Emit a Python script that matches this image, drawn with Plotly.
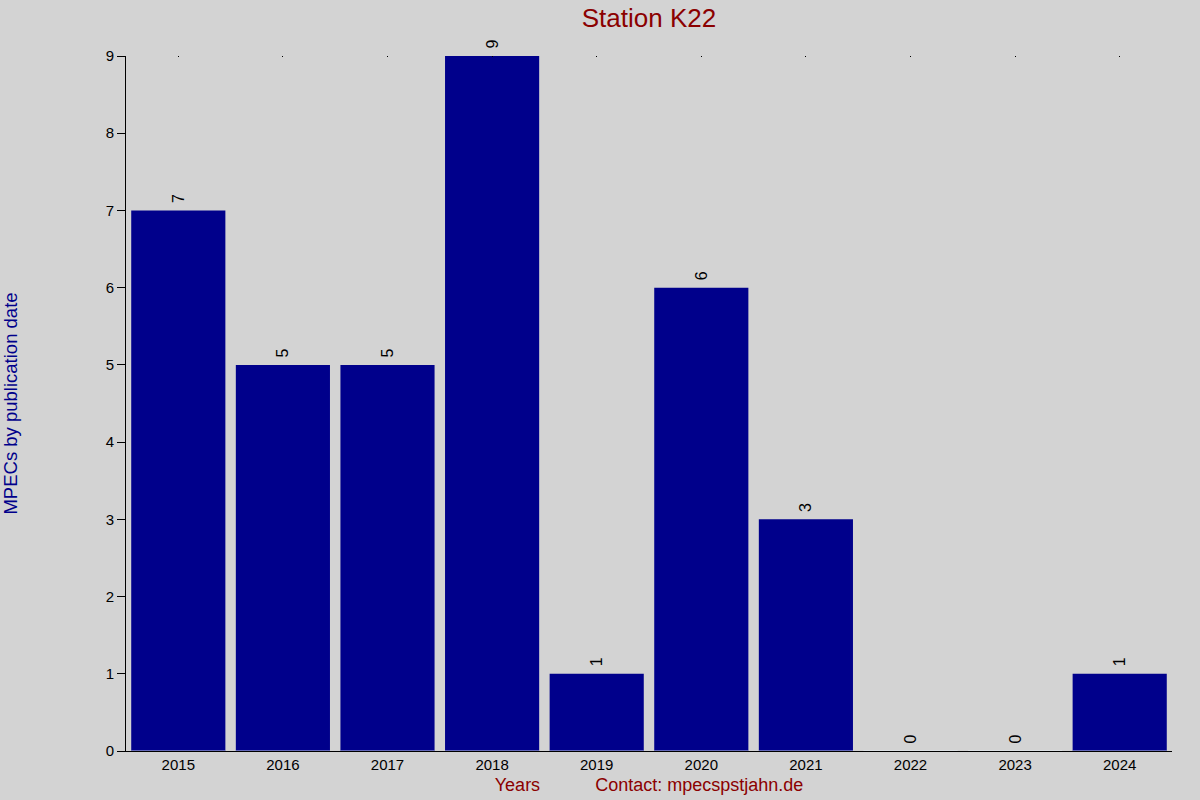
import plotly.graph_objects as go

years = ["2015", "2016", "2017", "2018", "2019", "2020", "2021", "2022", "2023", "2024"]
counts = [7, 5, 5, 9, 1, 6, 3, 0, 0, 1]

FONT = "Liberation Sans, Arial, sans-serif"

fig = go.Figure()
fig.add_trace(go.Bar(
    x=years, y=counts,
    marker=dict(color="#00008B", line=dict(width=0)),
    width=0.9,
    text=["\u00a0" + str(c) for c in counts],
    textposition="outside",
    textangle=-90,
    constraintext="none",
    textfont=dict(family=FONT, size=16, color="black"),
    cliponaxis=False,
))
# invisible trace on top axis for the small top tick dots
fig.add_trace(go.Bar(x=years, y=[0]*len(years), xaxis="x2", showlegend=False,
                     marker=dict(color="rgba(0,0,0,0)"), hoverinfo="skip"))

fig.update_layout(
    width=1200, height=800,
    paper_bgcolor="#d3d3d3", plot_bgcolor="#d3d3d3",
    margin=dict(l=126, r=28, t=56, b=49, autoexpand=False),
    showlegend=False,
    bargap=0.1,
    font=dict(family=FONT, size=15, color="black"),
    title=dict(text="Station K22", xref="paper", x=0.5, xanchor="center",
               yref="container", y=1 - 18/800, yanchor="middle",
               font=dict(family=FONT, size=26, color="#8B0000")),
    xaxis=dict(
        type="category", range=[-0.5, 9.5], automargin=False,
        showline=True, linecolor="black", linewidth=1,
        ticks="", showgrid=False, zeroline=False,
        tickfont=dict(family=FONT, size=15, color="black"),
        title=dict(text="Years" + "\u00a0" * 11 + "Contact: mpecspstjahn.de",
                   font=dict(family=FONT, size=18, color="#8B0000"), standoff=6),
    ),
    xaxis2=dict(
        type="category", range=[-0.5, 9.5], overlaying="x", side="top", automargin=False,
        showline=False, ticks="inside", ticklen=1, tickcolor="black",
        showticklabels=False, showgrid=False, zeroline=False,
    ),
    yaxis=dict(
        range=[0, 9], dtick=1, automargin=False,
        showline=True, linecolor="black", linewidth=1,
        ticks="outside", ticklen=8, tickcolor="black",
        showgrid=False, zeroline=False,
        tickfont=dict(family=FONT, size=15, color="black"),
        title=dict(text="MPECs by publication date",
                   font=dict(family=FONT, size=18.5, color="#00008B"), standoff=84),
    ),
)

fig.write_html("out.html", config={"displayModeBar": False},
               post_script="document.body.style.margin='0';document.body.style.overflow='hidden';")
